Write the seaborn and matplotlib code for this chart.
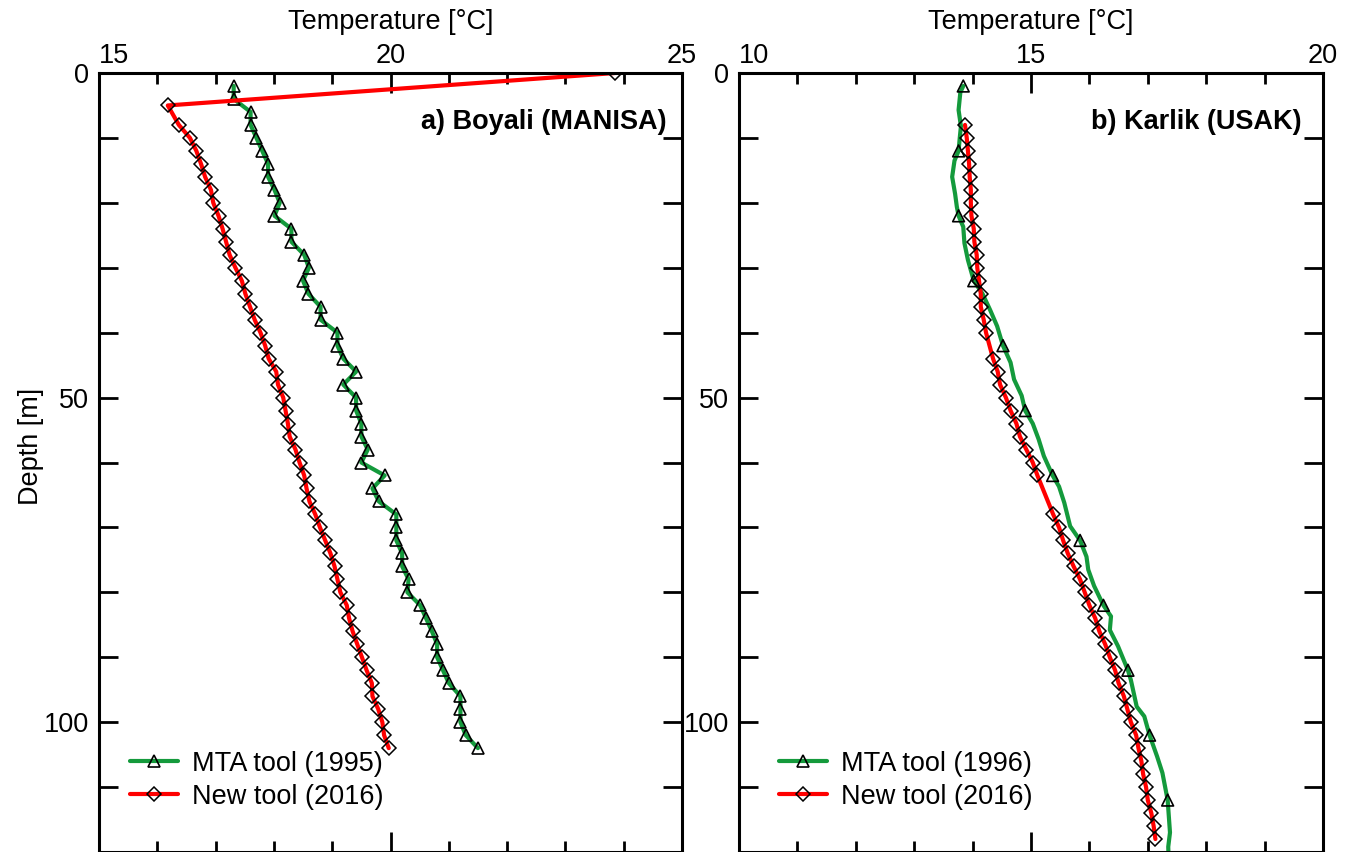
import numpy as np
import pandas as pd
import matplotlib
matplotlib.use("Agg")
import matplotlib.pyplot as plt
import seaborn as sns
from matplotlib.ticker import MultipleLocator
from matplotlib.lines import Line2D

# ---------------- data ----------------
# a) Boyali (MANISA)
boyali_new_depth = [0, 5] + list(range(8, 105, 2))
boyali_new_temp = [23.85, 16.18, 16.37, 16.56, 16.67, 16.75, 16.82, 16.92, 16.96, 17.05,
                   17.12, 17.18, 17.24, 17.34, 17.45, 17.51, 17.59, 17.67, 17.77, 17.85,
                   17.91, 18.04, 18.07, 18.16, 18.20, 18.24, 18.27, 18.37, 18.44, 18.52,
                   18.56, 18.61, 18.71, 18.79, 18.88, 18.97, 19.04, 19.09, 19.14, 19.25,
                   19.29, 19.35, 19.43, 19.51, 19.59, 19.68, 19.69, 19.79, 19.86, 19.89,
                   19.97]
boyali_mta_depth = list(range(2, 105, 2))
boyali_mta_temp = [17.31, 17.31, 17.60, 17.60, 17.70, 17.80, 17.90, 17.90, 18.01, 18.10,
                   18.01, 18.30, 18.30, 18.52, 18.60, 18.50, 18.59, 18.80, 18.80, 19.09,
                   19.09, 19.19, 19.41, 19.19, 19.41, 19.41, 19.50, 19.50, 19.61, 19.50,
                   19.90, 19.69, 19.80, 20.10, 20.10, 20.10, 20.20, 20.20, 20.31, 20.29,
                   20.51, 20.61, 20.71, 20.80, 20.80, 20.90, 21.00, 21.20, 21.20, 21.20,
                   21.29, 21.50]

# b) Karlik (USAK)
karlik_new_depth = list(range(8, 41, 2)) + list(range(44, 63, 2)) + list(range(68, 119, 2))
karlik_new_temp = [13.87, 13.90, 13.92, 13.94, 13.95, 13.97, 13.97, 13.98, 14.02, 14.03,
                   14.07, 14.08, 14.11, 14.14, 14.14, 14.19, 14.23,
                   14.35, 14.43, 14.47, 14.57, 14.65, 14.75, 14.81, 14.92, 15.03, 15.11,
                   15.38, 15.48, 15.55, 15.63, 15.73, 15.84, 15.92, 16.00, 16.10, 16.17,
                   16.27, 16.35, 16.44, 16.50, 16.59, 16.65, 16.71, 16.80, 16.84, 16.89,
                   16.92, 16.97, 17.00, 17.06, 17.10, 17.13]
karlik_mta_line_depth = [2, 3, 5.7, 8.2, 10, 12, 13.5, 16, 18.6, 20.6, 22, 23.7, 26.2, 28.8,
                         32, 34, 36.5, 39, 42, 44.6, 47.2, 49.7, 52, 54, 56.4, 59, 62, 63.7,
                         66.2, 69.8, 72, 74.5, 76.5, 79, 82, 83.7, 85.8, 88.3, 92, 93.5, 97.6,
                         99.1, 102, 105.3, 107.8, 112, 117, 119.2, 122]
karlik_mta_line_temp = [13.84, 13.79, 13.76, 13.80, 13.78, 13.76, 13.69, 13.65, 13.70, 13.73,
                        13.76, 13.84, 13.86, 13.92, 14.02, 14.17, 14.30, 14.42, 14.52, 14.65,
                        14.71, 14.84, 14.90, 15.03, 15.13, 15.22, 15.37, 15.48, 15.57, 15.67,
                        15.84, 15.95, 15.98, 16.08, 16.24, 16.37, 16.35, 16.49, 16.66, 16.71,
                        16.81, 16.94, 17.03, 17.16, 17.25, 17.34, 17.38, 17.35, 17.36]
karlik_mta_mark_depth = [2, 12, 22, 32, 42, 52, 62, 72, 82, 92, 102, 112]
karlik_mta_mark_temp = [13.84, 13.76, 13.76, 14.02, 14.52, 14.90, 15.37, 15.84, 16.24,
                        16.66, 17.03, 17.34]

# ---------------- style ----------------
sns.set_style("ticks")
plt.rcParams["font.family"] = ["Liberation Sans", "DejaVu Sans"]
plt.rcParams["text.color"] = "black"
plt.rcParams["axes.labelcolor"] = "black"
plt.rcParams["xtick.color"] = "black"
plt.rcParams["ytick.color"] = "black"
FS = 19.5
GREEN = "#149a3c"
RED = "#ff0000"
LW = 3.0

fig = plt.figure(figsize=(13.51, 8.52), dpi=100)
top = 1 - 73 / 852
ax1 = fig.add_axes([99 / 1351, 0, 583 / 1351, top])
ax2 = fig.add_axes([739 / 1351, 0, 584 / 1351, top])

tri_kw = dict(marker="^", ms=8.5, mfc="none", mec="k", mew=1.2)
dia_kw = dict(marker="D", ms=7.0, mfc="none", mec="k", mew=1.1)

# Panel a
sns.lineplot(x=boyali_mta_temp, y=boyali_mta_depth, sort=False, estimator=None,
             color=GREEN, lw=LW, ax=ax1, **tri_kw)
sns.lineplot(x=boyali_new_temp, y=boyali_new_depth, sort=False, estimator=None,
             color=RED, lw=LW, ax=ax1, **dia_kw)

# Panel b
sns.lineplot(x=karlik_mta_line_temp, y=karlik_mta_line_depth, sort=False, estimator=None,
             color=GREEN, lw=LW, ax=ax2)
sns.scatterplot(x=karlik_mta_mark_temp, y=karlik_mta_mark_depth, marker="^", s=72,
                facecolor="none", edgecolor="k", linewidth=1.2, ax=ax2, zorder=4)
sns.lineplot(x=karlik_new_temp, y=karlik_new_depth, sort=False, estimator=None,
             color=RED, lw=LW, ax=ax2, **dia_kw)

for ax, xlim, title, tx, leg_year, lx in [
        (ax1, (15, 25), "a) Boyali (MANISA)", 0.973, "MTA tool (1995)", 0.053),
        (ax2, (10, 20), "b) Karlik (USAK)", 0.964, "MTA tool (1996)", 0.0685)]:
    ax.set_xlim(*xlim)
    ax.set_ylim(120, 0)
    ax.set_xticks([xlim[0], xlim[0] + 5, xlim[1]])
    ax.xaxis.set_minor_locator(MultipleLocator(1))
    ax.yaxis.set_major_locator(MultipleLocator(50))
    ax.yaxis.set_minor_locator(MultipleLocator(10))
    ax.tick_params(which="both", direction="in", top=True, bottom=True, left=True,
                   right=True, labeltop=True, labelbottom=False, labelleft=True,
                   labelright=False, width=2, labelsize=FS, color="k", labelcolor="k")
    ax.tick_params(axis="x", which="major", length=14.5, pad=3)
    ax.tick_params(axis="x", which="minor", length=8)
    ax.tick_params(axis="y", which="both", length=13.5, pad=7)
    for s in ax.spines.values():
        s.set_linewidth(2.2)
        s.set_color("k")
    ax.xaxis.set_label_position("top")
    ax.set_xlabel("Temperature [°C]", fontsize=FS, labelpad=10, color="k")
    ax.set_ylabel("")
    ax.xaxis.get_major_ticks()[0].label2.set_horizontalalignment("left")
    ax.text(tx, 0.937, title, transform=ax.transAxes, ha="right", va="center",
            fontsize=FS, fontweight="bold", color="k")
    handles = [Line2D([], [], color=GREEN, lw=LW, **tri_kw),
               Line2D([], [], color=RED, lw=LW, **dia_kw)]
    leg = ax.legend(handles, [leg_year, "New tool (2016)"], loc="center left",
                    bbox_to_anchor=(lx, 0.092), frameon=False, fontsize=FS,
                    borderpad=0, borderaxespad=0, handlelength=1.78, handletextpad=0.52,
                    labelspacing=0.25)
    for t in leg.get_texts():
        t.set_color("k")

ax1.set_ylabel("Depth [m]", fontsize=FS, color="k")
ax1.yaxis.set_label_coords(-0.095, 0.52)

fig.savefig("out.png", dpi=100)
